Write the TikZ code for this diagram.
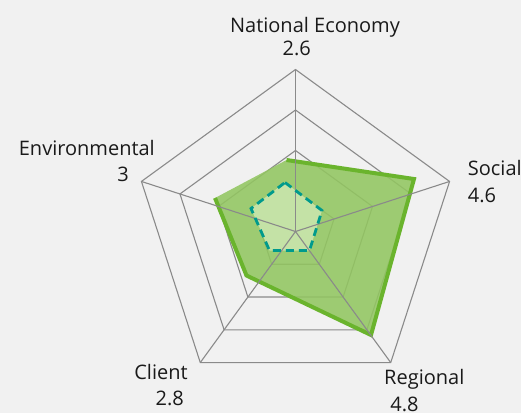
\documentclass[tikz,border=0pt]{standalone}
\usepackage{fontspec}
\setmainfont{Open Sans}
\usetikzlibrary{calc}
\definecolor{bgc}{HTML}{F1F1F1}
\definecolor{gridc}{HTML}{8A8A8A}
\definecolor{areac}{HTML}{92C661}
\definecolor{edgec}{HTML}{6AB42D}
\definecolor{innerc}{HTML}{C4E2A6}
\definecolor{dashc}{HTML}{009A8C}
\definecolor{txtc}{HTML}{1A1A1A}
\begin{document}
\begin{tikzpicture}[x=1pt,y=-1pt,
  gridline/.style={draw=gridc,line width=1.1pt},
  area/.style={fill=areac,fill opacity=0.88},
  edgeline/.style={draw=edgec,line width=4pt,line join=miter},
  innerarea/.style={fill=innerc},
  dashline/.style={draw=dashc,line width=2.8pt,dash pattern=on 8pt off 5pt},
  lbl/.style={font=\fontsize{20}{24}\selectfont,text=txtc,inner sep=0pt}]
\useasboundingbox (0,0) rectangle (521,413);
\fill[bgc] (0,0) rectangle (521,413);
\coordinate (O) at (295.5,231.5);
% axis end points
\coordinate (vN) at ($(O)+(-90:162)$);
\coordinate (vS) at ($(O)+(-18:162)$);
\coordinate (vR) at ($(O)+(54:162)$);
\coordinate (vC) at ($(O)+(126:162)$);
\coordinate (vE) at ($(O)+(198:162)$);
% rings
\foreach \r in {40.5,81,121.5,162}
  \draw[gridline] ($(O)+(-90:\r)$) -- ($(O)+(-18:\r)$) -- ($(O)+(54:\r)$) -- ($(O)+(126:\r)$) -- ($(O)+(198:\r)$) -- cycle;
% data area
\coordinate (dN) at (286.5,160);
\coordinate (dS) at (414,179);
\coordinate (dR) at (371,335);
\coordinate (dC) at (246.5,275.5);
\coordinate (dE) at (215,198);
\fill[area] (dN) -- (dS) -- (dR) -- (dC) -- (dE) -- cycle;
\draw[edgeline] (dN) -- (dS) -- (dR) -- (dC) -- (dE);
% inner dashed pentagon
\coordinate (iN) at (285,182.5);
\coordinate (iS) at (322,210.5);
\coordinate (iR) at (309.5,250.5);
\coordinate (iC) at (269.5,250.5);
\coordinate (iE) at (251,208.5);
\fill[innerarea] (iN) -- (iS) -- (iR) -- (iC) -- (iE) -- cycle;
% spokes
\foreach \v in {vN,vS,vR,vC,vE}
  \draw[gridline] (O) -- (\v);
\draw[dashline] (iN) -- (iS) -- (iR) -- (iC) -- (iE) -- cycle;
% labels
\node[lbl,anchor=base] (tN) at (315,32.3) {National Economy};
\node[lbl,anchor=base] (nN) at (296.8,55.7) {2.6};
\node[lbl,anchor=base east] (tE) at (155,155.7) {Environmental};
\node[lbl,anchor=base east] (nE) at (129,181.7) {3};
\node[lbl,anchor=base west] (tS) at (467.7,175) {Social};
\node[lbl,anchor=base west] (nS) at (467.7,202.3) {4.6};
\node[lbl,anchor=base] (tC) at (161,379) {Client};
\node[lbl,anchor=base] (nC) at (169.7,405) {2.8};
\node[lbl,anchor=base] (tR) at (424.3,384.3) {Regional};
\node[lbl,anchor=base] (nR) at (404.5,411.7) {4.8};
\end{tikzpicture}
\end{document}
